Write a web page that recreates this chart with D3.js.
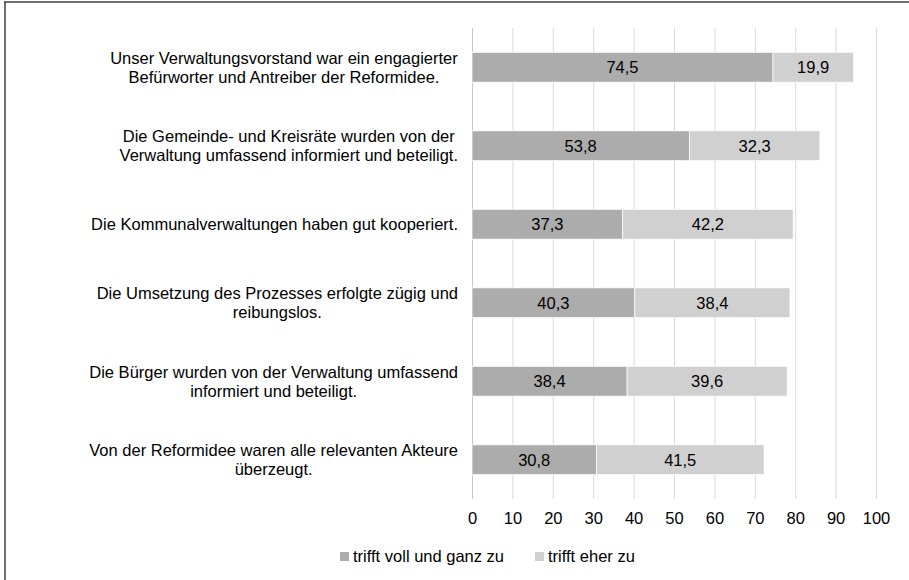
<!DOCTYPE html>
<meta charset="utf-8">
<style>
  body { margin: 0; background: #fff; }
  svg { font-family: "Liberation Sans", Arial, sans-serif; }
</style>
<script src="https://d3js.org/d3.v7.min.js"></script>
<svg width="909" height="580"></svg>
<script>
    var categories = [
        ["Unser Verwaltungsvorstand war ein engagierter", "Befürworter und Antreiber der Reformidee."],
        ["Die Gemeinde- und Kreisräte wurden von der", "Verwaltung umfassend informiert und beteiligt."],
        ["Die Kommunalverwaltungen haben gut kooperiert."],
        ["Die Umsetzung des Prozesses erfolgte zügig und", "reibungslos."],
        ["Die Bürger wurden von der Verwaltung umfassend", "informiert und beteiligt."],
        ["Von der Reformidee waren alle relevanten Akteure", "überzeugt."]
    ];
    var voll = [74.5, 53.8, 37.3, 40.3, 38.4, 30.8];
    var eher = [19.9, 32.3, 42.2, 38.4, 39.6, 41.5];
    var seriesNames = ["trifft voll und ganz zu", "trifft eher zu"];
    var colors = ["#acacac", "#d0d0d0"];
    var ticks = [0, 10, 20, 30, 40, 50, 60, 70, 80, 90, 100];

    var svg = d3.select("svg");
    var fmt = function (v) { return String(v).replace(".", ","); };
    var fs = "16.5px";

    // frame (top and left edge only, as in the cropped original)
    svg.append("line").attr("x1", 4).attr("x2", 909).attr("y1", 2).attr("y2", 2)
        .attr("stroke", "#404040").attr("stroke-width", 1.5);
    svg.append("line").attr("x1", 5).attr("x2", 5).attr("y1", 2).attr("y2", 580)
        .attr("stroke", "#404040").attr("stroke-width", 1.5);

    var x = d3.scaleLinear().domain([0, 100]).range([472, 876]);
    var y = d3.scaleBand().domain(d3.range(categories.length)).range([28, 499]).paddingInner(0.62).paddingOuter(0.31);

    // gridlines
    svg.append("g").selectAll("line").data(ticks).enter().append("line")
        .attr("x1", function (d) { return x(d) + 0.5; })
        .attr("x2", function (d) { return x(d) + 0.5; })
        .attr("y1", 28).attr("y2", 499)
        .attr("stroke", function (d) { return d === 0 ? "#c8c8c8" : "#d9d9d9"; })
        .attr("stroke-width", 1);

    // x axis labels
    var ax = svg.append("g").attr("transform", "translate(0,499)")
        .call(d3.axisBottom(x).tickValues(ticks).tickSize(0).tickPadding(13));
    ax.select(".domain").remove();
    ax.selectAll("text").attr("font-size", fs).attr("fill", "#000")
        .attr("font-family", "Liberation Sans, Arial, sans-serif");

    // bars
    var rows = voll.map(function (v, i) { return { i: i, a: v, b: eher[i] }; });
    var g = svg.append("g");
    g.selectAll(".bar1").data(rows).enter().append("rect")
        .attr("x", function (d) { return x(0); })
        .attr("y", function (d) { return y(d.i); })
        .attr("width", function (d) { return x(d.a) - x(0); })
        .attr("height", y.bandwidth())
        .attr("fill", colors[0]).attr("stroke", "#fff").attr("stroke-width", 0.75);
    g.selectAll(".bar2").data(rows).enter().append("rect")
        .attr("x", function (d) { return x(d.a); })
        .attr("y", function (d) { return y(d.i); })
        .attr("width", function (d) { return x(d.a + d.b) - x(d.a); })
        .attr("height", y.bandwidth())
        .attr("fill", colors[1]).attr("stroke", "#fff").attr("stroke-width", 0.75);

    // value labels
    rows.forEach(function (d) {
        var cy = y(d.i) + y.bandwidth() / 2 + 6;
        g.append("text").attr("x", x(d.a / 2)).attr("y", cy)
            .attr("text-anchor", "middle").attr("font-size", fs).text(fmt(d.a));
        g.append("text").attr("x", x(d.a + d.b / 2)).attr("y", cy)
            .attr("text-anchor", "middle").attr("font-size", fs).text(fmt(d.b));
    });

    // category labels: centred lines, block right-aligned
    categories.forEach(function (lines, i) {
        var cy = y(i) + y.bandwidth() / 2;
        var t = svg.append("text").attr("font-size", fs).attr("text-anchor", "middle");
        var lh = 19;
        var y0 = cy - (lines.length - 1) * lh / 2 + 6;
        lines.forEach(function (l, k) {
            t.append("tspan").attr("x", 0).attr("y", y0 + k * lh).text(l);
        });
        var w = t.node().getBBox().width;
        t.attr("transform", "translate(" + (458 - w / 2) + ",0)");
    });

    // legend
    var leg = svg.append("g");
    var lx = [340, 535];
    seriesNames.forEach(function (n, i) {
        leg.append("rect").attr("x", lx[i]).attr("y", 552).attr("width", 9).attr("height", 9).attr("fill", colors[i]);
        leg.append("text").attr("x", lx[i] + 13).attr("y", 562).attr("font-size", fs).text(n);
    });
</script>
